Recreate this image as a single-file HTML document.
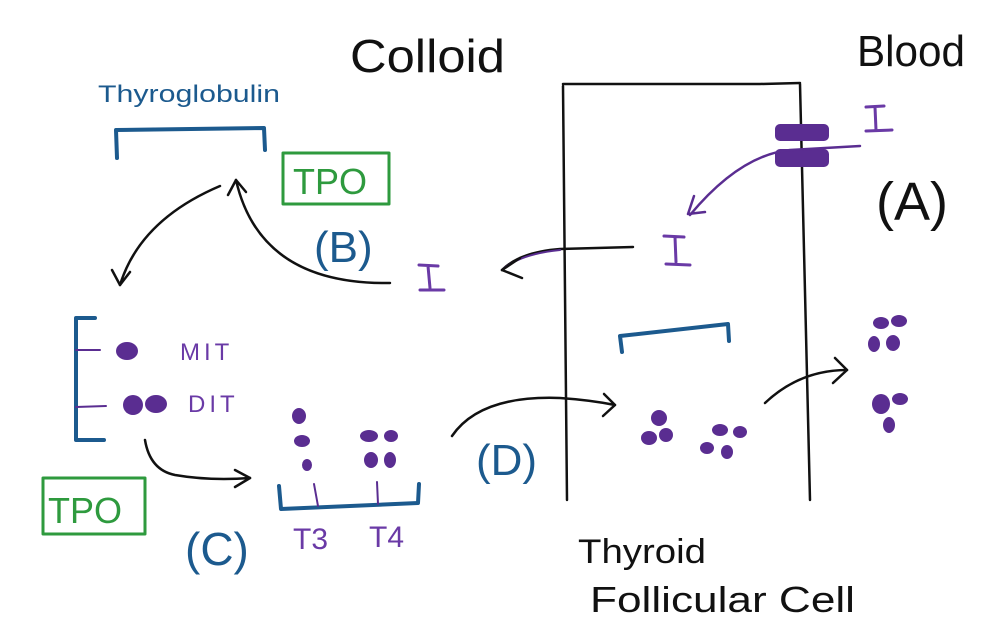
<!DOCTYPE html>
<html><head><meta charset="utf-8"><style>
html,body{margin:0;padding:0;background:#fff;}
svg{display:block;}
text{font-family:"Liberation Sans",sans-serif;}
</style></head><body>
<svg width="992" height="636" viewBox="0 0 992 636" xmlns="http://www.w3.org/2000/svg">
<g fill="none" stroke-linecap="round" stroke-linejoin="round">
<text x="350" y="72" font-size="46" fill="#111" textLength="155" lengthAdjust="spacingAndGlyphs">Colloid</text>
<text x="857" y="66" font-size="44" fill="#111" textLength="108" lengthAdjust="spacingAndGlyphs">Blood</text>
<text x="98" y="102" font-size="24" fill="#1c5a8e" textLength="182" lengthAdjust="spacingAndGlyphs">Thyroglobulin</text>
<path d="M117 158 L116 130 L264 128 L265 150" stroke="#1c5a8e" stroke-width="4"/>
<rect x="283" y="153" width="106" height="51" stroke="#2e9a3e" stroke-width="3"/>
<text x="293" y="194" font-size="36" fill="#2e9a3e">TPO</text>
<path d="M563 84 L760 84 M760 84 L800 83" stroke="#111" stroke-width="2.5"/>
<path d="M563 86 L567 500" stroke="#111" stroke-width="2.5"/>
<path d="M800 84 L810 500" stroke="#111" stroke-width="2.5"/>
<rect x="775" y="124" width="54" height="17" rx="5" fill="#5a2d91" stroke="none"/>
<rect x="775" y="149" width="54" height="18" rx="5" fill="#5a2d91" stroke="none"/>
<path d="M866 107 L884 106 M875 107 L876 130 M866 131 L892 130" stroke="#6a3aa6" stroke-width="3"/>
<path d="M860 146 L790 150 Q740 155 690 215" stroke="#5a2d91" stroke-width="2.5"/>
<path d="M688 214 L705 212 M688 214 L694 196" stroke="#5a2d91" stroke-width="2.5"/>
<text x="876" y="220" font-size="54" fill="#111">(A)</text>
<path d="M664 236 L684 237 M675 237 L676 262 M666 264 L690 265" stroke="#6a3aa6" stroke-width="3"/>
<path d="M633 247 L560 249 Q520 252 502 270" stroke="#111" stroke-width="2.5"/>
<path d="M560 250 Q520 254 502 270" stroke="#5a2d91" stroke-width="2"/>
<path d="M502 270 L520 258 M502 270 L522 278" stroke="#111" stroke-width="2.5"/>
<path d="M419 265 L438 266 M428 266 L430 288 M420 290 L444 290" stroke="#6a3aa6" stroke-width="3"/>
<text x="314" y="262" font-size="44" fill="#1c5a8e">(B)</text>
<path d="M390 283 Q260 285 236 180" stroke="#111" stroke-width="2.5"/>
<path d="M236 180 L228 195 M236 180 L246 192" stroke="#111" stroke-width="2.5"/>
<path d="M220 186 Q140 220 120 285" stroke="#111" stroke-width="2.5"/>
<path d="M120 285 L112 270 M120 285 L130 272" stroke="#111" stroke-width="2.5"/>
<path d="M95 318 L76 318 L76 440 L104 440" stroke="#1c5a8e" stroke-width="4"/>
<path d="M76 350 L100 350 M76 407 L106 406" stroke="#5a2d91" stroke-width="2"/>
<g fill="#5a2d91" stroke="none">
<ellipse cx="127" cy="351" rx="11" ry="9"/>
<ellipse cx="133" cy="405" rx="10" ry="10"/>
<ellipse cx="156" cy="404" rx="11" ry="9"/>
</g>
<text x="180" y="360" font-size="24" fill="#6a3aa6" letter-spacing="4">MIT</text>
<text x="188" y="412" font-size="24" fill="#6a3aa6" letter-spacing="4">DIT</text>
<path d="M145 440 Q150 470 175 475 Q210 481 250 478" stroke="#111" stroke-width="2.5"/>
<path d="M250 478 L235 470 M250 478 L235 487" stroke="#111" stroke-width="2.5"/>
<rect x="43" y="478" width="102" height="56" stroke="#2e9a3e" stroke-width="3"/>
<text x="48" y="523" font-size="36" fill="#2e9a3e">TPO</text>
<text x="185" y="565" font-size="46" fill="#1c5a8e">(C)</text>
<g fill="#5a2d91" stroke="none">
<ellipse cx="299" cy="416" rx="7" ry="8"/>
<ellipse cx="302" cy="441" rx="8" ry="6"/>
<ellipse cx="307" cy="465" rx="5" ry="6"/>
<ellipse cx="369" cy="436" rx="9" ry="6"/>
<ellipse cx="391" cy="436" rx="7" ry="6"/>
<ellipse cx="371" cy="460" rx="7" ry="8"/>
<ellipse cx="390" cy="460" rx="6" ry="8"/>
</g>
<path d="M279 486 L281 509 L418 503 L419 484" stroke="#1c5a8e" stroke-width="4"/>
<path d="M314 484 L318 506 M377 482 L378 504" stroke="#5a2d91" stroke-width="2"/>
<text x="293" y="549" font-size="30" fill="#6a3aa6">T3</text>
<text x="369" y="547" font-size="30" fill="#6a3aa6">T4</text>
<path d="M452 436 Q480 395 560 398 Q590 400 615 405" stroke="#111" stroke-width="2.5"/>
<path d="M615 405 L604 394 M615 405 L603 416" stroke="#111" stroke-width="2.5"/>
<text x="476" y="475" font-size="44" fill="#1c5a8e">(D)</text>
<path d="M622 352 L620 336 L728 324 L729 341" stroke="#1c5a8e" stroke-width="4"/>
<g fill="#5a2d91" stroke="none">
<ellipse cx="659" cy="418" rx="8" ry="8"/>
<ellipse cx="649" cy="438" rx="8" ry="7"/>
<ellipse cx="666" cy="435" rx="7" ry="7"/>
<ellipse cx="720" cy="430" rx="8" ry="6"/>
<ellipse cx="740" cy="432" rx="7" ry="6"/>
<ellipse cx="707" cy="448" rx="7" ry="6"/>
<ellipse cx="727" cy="452" rx="6" ry="7"/>
<ellipse cx="881" cy="323" rx="8" ry="6"/>
<ellipse cx="899" cy="321" rx="8" ry="6"/>
<ellipse cx="874" cy="344" rx="6" ry="8"/>
<ellipse cx="893" cy="343" rx="7" ry="8"/>
<ellipse cx="881" cy="404" rx="9" ry="10"/>
<ellipse cx="900" cy="399" rx="8" ry="6"/>
<ellipse cx="889" cy="425" rx="6" ry="8"/>
</g>
<path d="M765 403 Q800 370 847 370" stroke="#111" stroke-width="2.5"/>
<path d="M847 370 L835 358 M847 370 L833 383" stroke="#111" stroke-width="2.5"/>
<text x="578" y="563" font-size="34" fill="#111" textLength="128" lengthAdjust="spacingAndGlyphs">Thyroid</text>
<text x="590" y="612" font-size="36" fill="#111" textLength="265" lengthAdjust="spacingAndGlyphs">Follicular Cell</text>
</g>
</svg>
</body></html>
